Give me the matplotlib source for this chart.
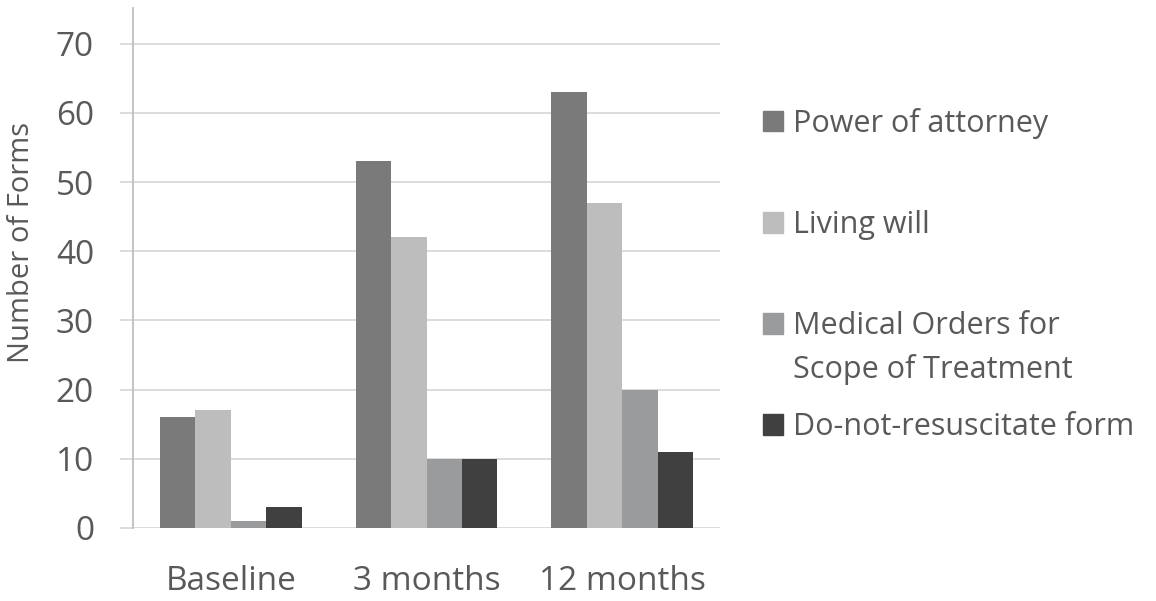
import numpy as np
import matplotlib
matplotlib.use("Agg")
import matplotlib.pyplot as plt
from matplotlib.patches import Patch

plt.rcParams['font.family'] = ['Open Sans', 'DejaVu Sans']

periodos = ['Baseline', '3 months', '12 months']
series = ['Power of attorney', 'Living will',
          'Medical Orders for', 'Do-not-resuscitate form']
segunda_linea = 'Scope of Treatment'
poder = [16, 53, 63]
testamento = [17, 42, 47]
most = [1, 10, 20]
dnr = [3, 10, 11]
valores = [poder, testamento, most, dnr]
colores = ['#7a7a7b', '#bdbdbd', '#9a9b9d', '#404040']
gris = '#595959'

fig = plt.figure(figsize=(11.56, 6.01), dpi=100)
ax = fig.add_axes([0.115, 0.1215, 0.508, 0.8655])

x = np.arange(len(periodos))
ancho = 0.181
for k, (v, c) in enumerate(zip(valores, colores)):
    ax.bar(x + (k - 1.5) * ancho, v, ancho, color=c, zorder=3)

ax.set_xlim(-0.5, 2.5)
ax.set_ylim(0, 75.2)
ax.set_yticks(range(0, 80, 10))
ax.grid(axis='y', color='#d9d9d9', linewidth=1.3, zorder=0)
ax.set_axisbelow(True)
for s in ['top', 'right', 'bottom']:
    ax.spines[s].set_visible(False)
ax.spines['left'].set_color('#bfbfbf')
ax.spines['left'].set_linewidth(1.3)
ax.tick_params(axis='y', length=9.5, width=1.3, color='#d9d9d9', labelsize=24, labelcolor=gris, pad=18.5)
ax.tick_params(axis='x', length=0, labelsize=24, labelcolor=gris, pad=27)
ax.set_xticks(x)
ax.set_xticklabels(periodos)
ax.set_ylabel('Number of Forms', fontsize=21, color=gris)
ax.yaxis.set_label_coords(-0.165, 0.548)

# leyenda a mano, una entrada por posición
pos_y = [0.795, 0.625, 0.457, 0.289]
leyendas = []
for lab, c, py in zip(series, colores, pos_y):
    leg = fig.legend(handles=[Patch(color=c)], labels=[lab], loc='center left',
                     bbox_to_anchor=(0.66, py), frameon=False, fontsize=22,
                     handlelength=0.66, handleheight=0.66, handletextpad=0.33,
                     borderpad=0, borderaxespad=0, labelcolor=gris)
    leyendas.append(leg)

fig.canvas.draw()
t = leyendas[2].get_texts()[0]
bb = t.get_window_extent().transformed(fig.transFigure.inverted())
fig.text(bb.x0, bb.y0 - 0.0725, segunda_linea, fontsize=22, color=gris,
         ha='left', va='bottom')

fig.savefig('out.png', dpi=100)
